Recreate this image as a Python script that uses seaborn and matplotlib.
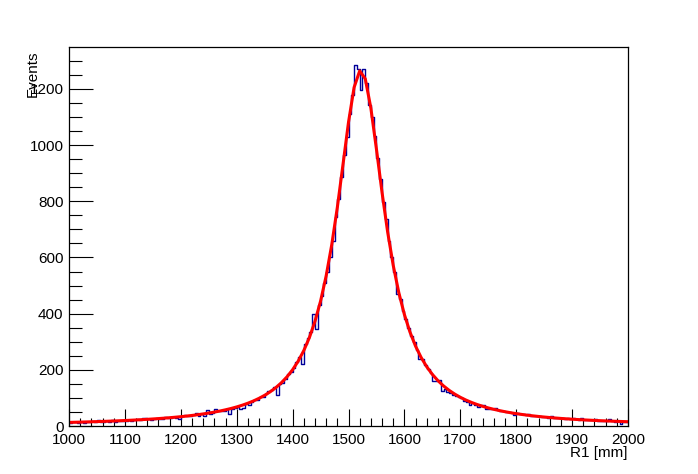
import numpy as np
import pandas as pd
import matplotlib
matplotlib.use("Agg")
import matplotlib.pyplot as plt
from matplotlib.ticker import MultipleLocator
import seaborn as sns

# histogram binning: 200 bins of 5 mm between 1000 and 2000
x_min, x_max, n_bins = 1000, 2000, 200

# counts per bin
counts = np.array([
    11, 13, 14, 12, 15, 11, 14, 15, 18, 15,
    21, 13, 16, 19, 13, 21, 14, 18, 17, 18,
    19, 20, 19, 21, 24, 22, 27, 27, 26, 23,
    25, 27, 26, 25, 31, 30, 28, 31, 30, 24,
    34, 38, 35, 37, 38, 48, 35, 43, 36, 57,
    44, 48, 61, 52, 55, 53, 60, 42, 60, 64,
    68, 62, 63, 80, 75, 84, 92, 93, 104, 105,
    114, 124, 128, 138, 110, 150, 154, 168, 186, 192,
    206, 228, 245, 220, 292, 315, 334, 398, 345, 430,
    462, 508, 548, 600, 660, 745, 808, 885, 965, 1030,
    1110, 1180, 1285, 1272, 1197, 1271, 1222, 1143, 1100, 1032,
    955, 880, 798, 736, 660, 600, 548, 470, 452, 410,
    380, 350, 322, 300, 272, 240, 238, 218, 203, 190,
    160, 160, 162, 125, 130, 120, 118, 112, 108, 104,
    98, 90, 85, 76, 82, 76, 66, 76, 75, 62,
    60, 62, 64, 57, 55, 52, 50, 49, 47, 40,
    45, 43, 41, 40, 43, 37, 36, 37, 34, 31,
    32, 30, 36, 30, 28, 29, 27, 26, 27, 24,
    30, 25, 23, 28, 22, 21, 22, 20, 24, 18,
    19, 18, 17, 25, 17, 16, 18, 8, 15, 14,
], dtype=float)

edges = np.linspace(x_min, x_max, n_bins + 1)
centers = 0.5 * (edges[:-1] + edges[1:])
df = pd.DataFrame({"R1": centers, "counts": counts})

# Breit-Wigner fit: 1/y is a parabola in x, weighted least squares
a, b, c = np.polyfit(centers, 1.0 / counts, 2, w=counts ** 1.5)
bw_mean = -b / (2 * a)
bw_g2 = c / a - bw_mean ** 2
bw_peak = 1.0 / (a * bw_g2)

# TF1 style sampling, 100 segments over the range
fit_x = np.linspace(x_min, x_max, 101)
fit_y = bw_peak * bw_g2 / ((fit_x - bw_mean) ** 2 + bw_g2)
fit_df = pd.DataFrame({"R1": fit_x, "fit": fit_y})

sns.set_style("white")
plt.rcParams["font.family"] = ["Liberation Sans", "DejaVu Sans"]
plt.rcParams["text.color"] = "black"
plt.rcParams["axes.labelcolor"] = "black"
plt.rcParams["xtick.color"] = "black"
plt.rcParams["ytick.color"] = "black"

fig = plt.figure(figsize=(6.98, 4.74), dpi=100)
ax = fig.add_axes([69 / 698, 48 / 474, 559 / 698, 379 / 474])

sns.histplot(data=df, x="R1", weights="counts", binwidth=5,
             binrange=(x_min, x_max), element="step", fill=False,
             color="#000099", linewidth=1.0, ax=ax)
sns.lineplot(data=fit_df, x="R1", y="fit", color="#ff0000", linewidth=2.2, ax=ax)

ax.set_xlim(x_min, x_max)
ax.set_ylim(0, 1.05 * counts.max())

ax.xaxis.set_major_locator(MultipleLocator(100))
ax.xaxis.set_minor_locator(MultipleLocator(20))
ax.yaxis.set_major_locator(MultipleLocator(200))
ax.yaxis.set_minor_locator(MultipleLocator(50))
ax.tick_params(axis="x", which="major", direction="in", length=12, width=0.8,
               labelsize=11, pad=5, bottom=True, top=False)
ax.tick_params(axis="x", which="minor", direction="in", length=6, width=0.8,
               bottom=True, top=False)
ax.tick_params(axis="y", which="major", direction="in", length=17, width=0.8,
               labelsize=11, pad=4, left=True, right=False)
ax.tick_params(axis="y", which="minor", direction="in", length=9, width=0.8,
               left=True, right=False)

for sp in ax.spines.values():
    sp.set_linewidth(0.9)
    sp.set_color("black")

ax.set_xlabel("R1 [mm]", fontsize=11, loc="right")
ax.set_ylabel("Events", fontsize=11, loc="top")
ax.xaxis.set_label_coords(1.0, -0.053)
ax.yaxis.set_label_coords(-0.052, 0.99)

fig.savefig("out.png", dpi=100)
